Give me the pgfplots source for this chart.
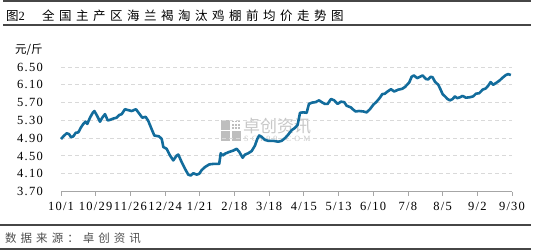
\documentclass[border=0pt]{standalone}
\usepackage{fontspec}
\setmainfont{Liberation Serif}
\newfontfamily\cjk{Noto Sans CJK SC}
\newfontfamily\cjktitle[LetterSpace=36]{Noto Sans CJK SC}
\newfontfamily\cjksrc[LetterSpace=35]{Noto Sans CJK SC}
\newfontfamily\numfont[LetterSpace=10]{Liberation Serif}
\newfontfamily\wmfont[LetterSpace=40]{Liberation Serif}
\usepackage{pgfplots}
\pgfplotsset{compat=1.18}
\definecolor{linecol}{RGB}{18,108,156}
\definecolor{rulegray}{RGB}{70,70,70}
\definecolor{axgray}{RGB}{166,166,166}
\definecolor{gridgray}{RGB}{217,217,217}
\definecolor{wmgray}{RGB}{190,190,190}
\definecolor{wmtext}{RGB}{200,200,200}
\definecolor{srcgray}{RGB}{80,80,80}

\pgfplotstableread{
d v
0 4.88
1.9 4.94
4.6 5.01
6.5 4.99
8.1 4.92
9.9 4.94
11.9 5.02
14.0 5.03
16.1 5.14
18.0 5.22
19.9 5.27
21.2 5.22
23.4 5.36
25.6 5.47
26.9 5.51
28.8 5.42
31.5 5.27
33.3 5.36
35.5 5.44
37.7 5.30
39.5 5.31
42.2 5.34
44.9 5.36
47.0 5.42
49.0 5.44
51.6 5.55
54.3 5.53
57.0 5.51
60.5 5.55
62.9 5.46
65.6 5.36
68.3 5.38
70.4 5.29
73.2 5.10
75.3 4.96
79.1 4.94
81.3 4.88
82.6 4.70
85.3 4.66
88.0 4.51
90.6 4.40
93.4 4.51
94.7 4.53
97.4 4.36
100.1 4.21
102.7 4.08
104.7 4.06
106.8 4.11
109.5 4.08
111.6 4.10
113.5 4.18
116.2 4.25
119.7 4.31
122.9 4.32
127.7 4.32
128.9 4.56
130.5 4.51
132.3 4.55
135.8 4.59
139.0 4.62
141.8 4.66
143.9 4.59
146.6 4.46
148.5 4.53
151.1 4.56
153.9 4.61
156.5 4.73
158.4 4.88
160.0 4.96
161.9 4.93
164.6 4.86
167.3 4.84
171.3 4.84
175.3 4.82
178.1 4.84
180.8 4.90
183.4 4.98
186.2 5.08
188.8 5.13
191.0 5.20
192.9 5.47
195.5 5.48
198.3 5.47
200.1 5.67
202.8 5.70
205.5 5.71
208.2 5.75
210.4 5.71
213.0 5.67
215.2 5.67
217.9 5.78
220.5 5.75
223.3 5.67
225.9 5.72
228.6 5.71
230.5 5.63
234.0 5.59
235.9 5.54
237.8 5.50
240.5 5.51
244.0 5.50
246.7 5.48
249.3 5.55
252.0 5.65
254.7 5.72
257.4 5.81
259.3 5.89
261.4 5.90
263.6 5.95
266.3 6.00
268.9 5.95
272.2 5.99
275.4 6.01
277.6 6.05
281.0 6.15
283.0 6.28
284.8 6.31
287.5 6.25
289.7 6.28
291.9 6.31
294.5 6.23
296.4 6.22
298.3 6.28
299.9 6.27
301.8 6.17
304.5 6.10
306.4 5.99
308.0 5.89
309.9 5.84
312.0 5.78
313.9 5.75
316.1 5.78
317.9 5.84
319.8 5.80
322.0 5.82
324.1 5.85
326.8 5.81
330.0 5.82
332.7 5.84
334.9 5.90
337.5 5.91
340.3 5.99
342.9 6.02
344.8 6.08
346.7 6.16
348.8 6.10
351.6 6.15
353.7 6.19
356.4 6.26
359.1 6.32
360.9 6.34
363.1 6.32
}\pricedata

\begin{document}
\begin{tikzpicture}
\useasboundingbox (0,0) rectangle (533bp,-251bp);
\fill[white] (0,0) rectangle (533bp,-251bp);
% rules
\draw[rulegray, line width=1.6bp] (3bp,-1.2bp) -- (531bp,-1.2bp);
\draw[rulegray, line width=1.6bp] (3bp,-25bp) -- (531bp,-25bp);
\draw[rulegray, line width=1.2bp] (0bp,-225bp) -- (531bp,-225bp);
\draw[rulegray, line width=1.2bp] (0bp,-249bp) -- (531bp,-249bp);
% title
\node[anchor=west, inner sep=0pt, text=black] at (6bp,-16bp) {\cjk\fontsize{12.5bp}{14bp}\selectfont 图\numfont 2};
\node[anchor=west, inner sep=0pt, text=black] at (42bp,-16bp) {\cjktitle\fontsize{12.5bp}{14bp}\selectfont 全国主产区海兰褐淘汰鸡棚前均价走势图};
% source
\node[anchor=west, inner sep=0pt, text=srcgray] at (5bp,-238bp) {\cjksrc\fontsize{11.5bp}{13bp}\selectfont 数据来源：卓创资讯};
% y unit
\node[anchor=west, inner sep=0pt, text=black] at (15bp,-50bp) {\cjk\fontsize{11.5bp}{13bp}\selectfont 元/斤};
% watermark
\fill[wmgray] (221bp,-120bp) rectangle (230bp,-129.5bp);
\fill[wmgray] (221bp,-131bp) rectangle (230bp,-141bp);
\fill[wmgray] (231.5bp,-131bp) rectangle (241bp,-141bp);
\foreach \i in {0,1,2} {\foreach \j in {0,1,2} {\fill[wmgray] (232bp+\i*3.2bp,-120.5bp-\j*3.2bp) rectangle ++(1.8bp,-1.8bp);}}
\node[anchor=west, inner sep=0pt, text=wmtext] at (243bp,-126bp) {\cjk\fontsize{17bp}{17bp}\selectfont 卓创资讯};
\node[anchor=west, inner sep=0pt, text=wmtext] at (244bp,-138.5bp) {\wmfont\fontsize{8bp}{8bp}\selectfont SCI99.COM};
\begin{axis}[
  at={(61bp,-191.5bp)}, anchor=south west,
  scale only axis, width=451bp, height=124.5bp,
  xmin=0, xmax=364, ymin=3.7, ymax=6.5, clip=false,
  axis x line=bottom, axis y line=left, axis line style={-},
  y axis line style={draw=none},
  x axis line style={draw=axgray, line width=1bp},
  xtick={0,28,...,364},
  xticklabels={10/1,10/29,11/26,12/24,1/21,2/18,3/18,4/15,5/13,6/10,7/8,8/5,9/2,9/30},
  ytick={3.7,4.1,4.5,4.9,5.3,5.7,6.1,6.5},
  yticklabels={3.70,4.10,4.50,4.90,5.30,5.70,6.10,6.50},
  ymajorgrids,
  grid style={gridgray, dash pattern=on 4bp off 3bp, line width=0.9bp},
  tick align=outside, major tick length=4bp,
  xtick style={axgray, line width=0.8bp},
  ytick style={draw=none},
  ticklabel style={font=\numfont\fontsize{12.5bp}{14bp}\selectfont, text=black},
  yticklabel style={anchor=east, inner sep=0pt, xshift=-14bp},
  xticklabel style={anchor=north, inner sep=0pt, yshift=-6.5bp},
]
\addplot[linecol, line width=2.6bp, line join=round, mark=none] table[x=d, y=v] {\pricedata};
\end{axis}
\end{tikzpicture}
\end{document}
